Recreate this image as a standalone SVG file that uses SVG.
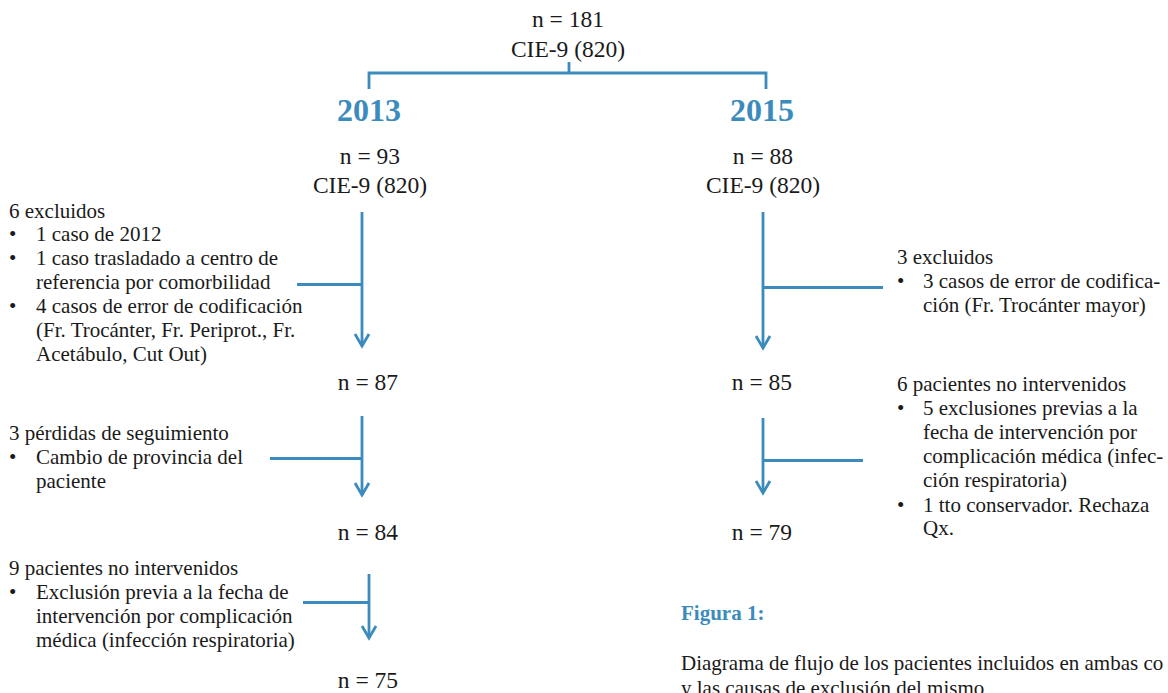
<svg xmlns="http://www.w3.org/2000/svg" width="1168" height="693" viewBox="0 0 1168 693">
<style>
text{font-family:"Liberation Serif","Times New Roman",serif;fill:#1a1a1a}
.c{font-size:23.5px;text-anchor:middle}
.s{font-size:21px}
.yr{font-size:32px;font-weight:bold;fill:#3b8bbd;text-anchor:middle}
.fig{font-size:21px;font-weight:bold;fill:#3b8bbd}
.ln{stroke:#3b8bbd;stroke-width:2.8;fill:none}
</style>
<defs>
<marker id="ah" viewBox="0 0 16 14" refX="8" refY="12.5" markerWidth="16" markerHeight="14" markerUnits="userSpaceOnUse" orient="auto-start-reverse">
<path d="M1,1 L8,12.5 L15,1" fill="none" stroke="#3b8bbd" stroke-width="2.8"/>
</marker>
</defs>
<rect width="1168" height="693" fill="#ffffff"/>
<g id="connectors">
<path class="ln" d="M569,62 V73 M369,89 V73 H766 V89"/>
<path class="ln" d="M362,212 V346"/>
<path class="ln" d="M297,284.5 H362"/>
<path class="ln" d="M362,416 V495"/>
<path class="ln" d="M270,458.5 H362"/>
<path class="ln" d="M369,574 V638"/>
<path class="ln" d="M303,602.5 H369"/>
<path class="ln" d="M763,212 V348"/>
<path class="ln" d="M763,287.5 H883"/>
<path class="ln" d="M763,418 V493"/>
<path class="ln" d="M763,460.5 H863"/>
<g fill="none" stroke="#3b8bbd" stroke-width="2.8">
<path d="M355,334 L362,346 L369,334"/>
<path d="M355,483 L362,495 L369,483"/>
<path d="M362,626 L369,638 L376,626"/>
<path d="M756,336 L763,348 L770,336"/>
<path d="M756,481 L763,493 L770,481"/>
</g>
</g>
<g id="root">
<text class="c" x="568" y="27">n = 181</text>
<text class="c" x="568" y="57">CIE-9 (820)</text>
</g>
<g id="y2013"><text class="yr" x="369" y="121">2013</text></g>
<g id="y2015"><text class="yr" x="762" y="121">2015</text></g>
<g id="n93">
<text class="c" x="370" y="164">n = 93</text>
<text class="c" x="370" y="193">CIE-9 (820)</text>
</g>
<g id="n88">
<text class="c" x="763" y="164">n = 88</text>
<text class="c" x="763" y="193">CIE-9 (820)</text>
</g>
<g id="n87"><text class="c" x="368" y="390">n = 87</text></g>
<g id="n84"><text class="c" x="368" y="540">n = 84</text></g>
<g id="n75"><text class="c" x="368" y="688">n = 75</text></g>
<g id="n85"><text class="c" x="762" y="390">n = 85</text></g>
<g id="n79"><text class="c" x="762" y="540">n = 79</text></g>
<g id="excl2013" class="s">
<text class="s" x="9" y="217.5">6 excluidos</text>
<text class="s" x="9" y="241">•</text><text class="s" x="36" y="241">1 caso de 2012</text>
<text class="s" x="9" y="265">•</text><text class="s" x="36" y="265">1 caso trasladado a centro de</text>
<text class="s" x="36" y="289">referencia por comorbilidad</text>
<text class="s" x="9" y="313">•</text><text class="s" x="36" y="313">4 casos de error de codificación</text>
<text class="s" x="36" y="337">(Fr. Trocánter, Fr. Periprot., Fr.</text>
<text class="s" x="36" y="360.5">Acetábulo, Cut Out)</text>
</g>
<g id="perd2013">
<text class="s" x="9" y="440">3 pérdidas de seguimiento</text>
<text class="s" x="9" y="464">•</text><text class="s" x="36" y="464">Cambio de provincia del</text>
<text class="s" x="36" y="487.5">paciente</text>
</g>
<g id="noint2013">
<text class="s" x="9" y="575">9 pacientes no intervenidos</text>
<text class="s" x="9" y="599">•</text><text class="s" x="36" y="599">Exclusión previa a la fecha de</text>
<text class="s" x="36" y="623">intervención por complicación</text>
<text class="s" x="36" y="647">médica (infección respiratoria)</text>
</g>
<g id="excl2015">
<text class="s" x="897" y="263.5">3 excluidos</text>
<text class="s" x="897" y="288">•</text><text class="s" x="923" y="288">3 casos de error de codifica-</text>
<text class="s" x="923" y="311.5">ción (Fr. Trocánter mayor)</text>
</g>
<g id="noint2015">
<text class="s" x="897" y="391">6 pacientes no intervenidos</text>
<text class="s" x="897" y="415">•</text><text class="s" x="923" y="415">5 exclusiones previas a la</text>
<text class="s" x="923" y="439">fecha de intervención por</text>
<text class="s" x="923" y="463">complicación médica (infec-</text>
<text class="s" x="923" y="487">ción respiratoria)</text>
<text class="s" x="897" y="511.5">•</text><text class="s" x="923" y="511.5">1 tto conservador. Rechaza</text>
<text class="s" x="923" y="535">Qx.</text>
</g>
<g id="caption">
<text class="fig" x="681" y="620">Figura 1:</text>
<text class="s" x="681" y="670">Diagrama de flujo de los pacientes incluidos en ambas co</text>
<text class="s" x="681" y="695">y las causas de exclusión del mismo</text>
</g>
</svg>
